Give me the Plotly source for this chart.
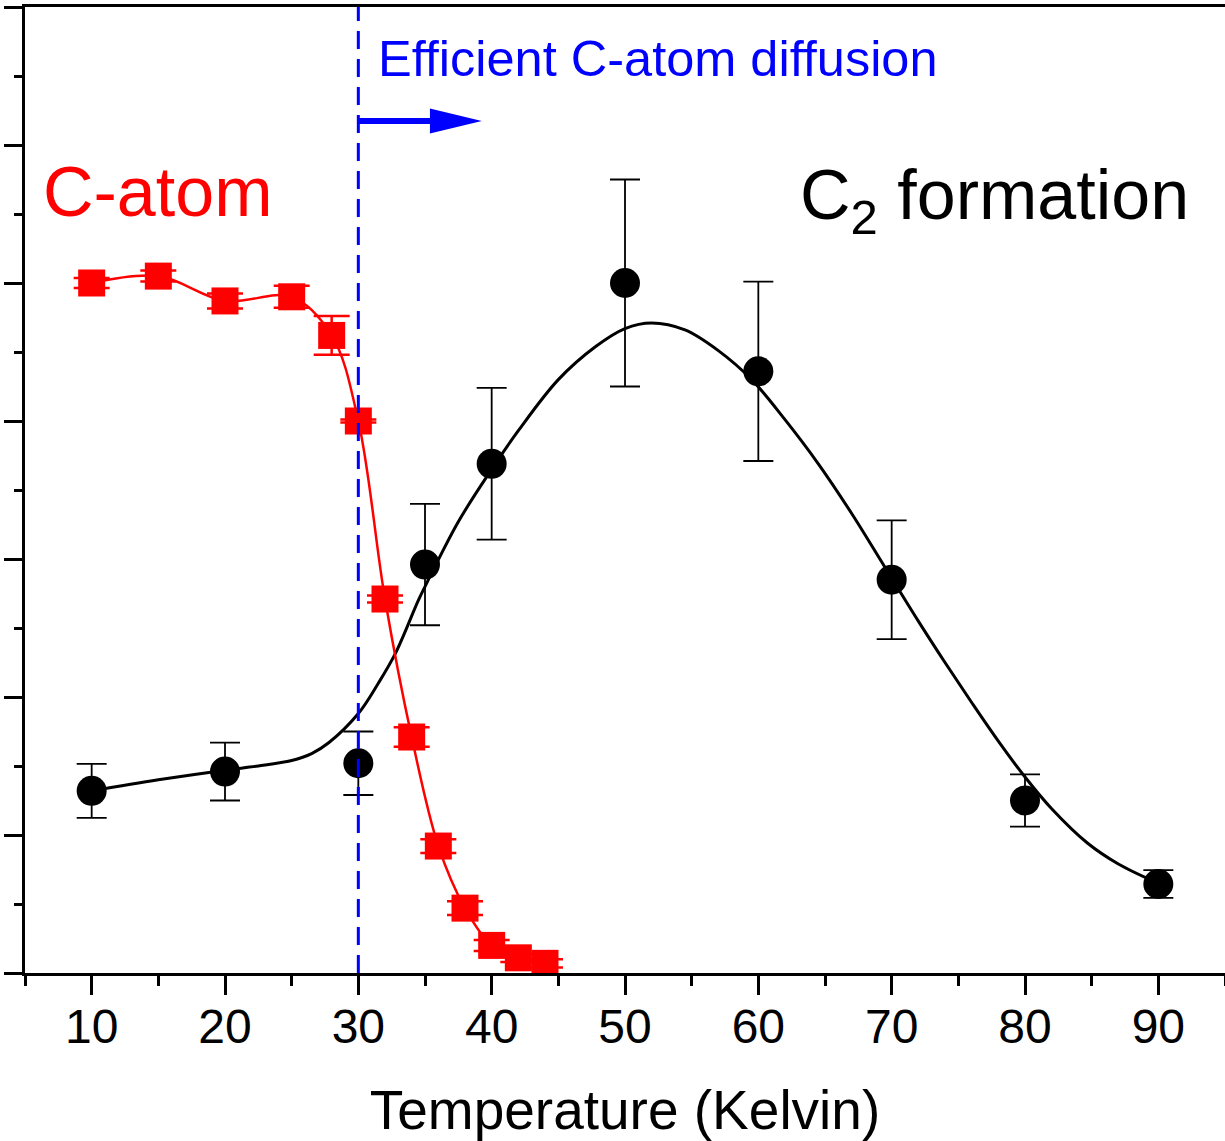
import plotly.graph_objects as go

# C-atom signal (red squares)
temp_c = [10, 15, 20, 25, 28, 30, 32, 34, 36, 38, 40, 42, 44]
catom = [5.00, 5.05, 4.87, 4.90, 4.62, 4.00, 2.71, 1.71, 0.92, 0.47, 0.20, 0.11, 0.07]
catom_err = [0.036, 0.04, 0.054, 0.08, 0.14, 0.01, 0.025, 0.07, 0.05, 0.05, 0.04, 0.03, 0.03]

# C2 formation (black circles)
temp_f = [10, 20, 30, 35, 40, 50, 60, 70, 80, 90]
c2 = [1.32, 1.46, 1.52, 2.96, 3.69, 5.00, 4.36, 2.85, 1.25, 0.645]
c2_err = [0.196, 0.21, 0.23, 0.44, 0.55, 0.75, 0.65, 0.43, 0.19, 0.10]

# C2 fitted curve
fit_t = [10, 15, 20, 22.5, 25, 26.5, 27.8, 30, 31.5, 32.8, 34.5, 35.0, 37.5, 40, 42, 45, 47.8,
         50, 52, 54.5, 57, 59.5, 62, 64.5, 67, 69.5, 72, 74, 76, 78, 80, 82, 84.7, 87, 90]
fit_v = [1.32, 1.40, 1.47, 1.50, 1.54, 1.59, 1.67, 1.88, 2.10, 2.32, 2.70, 2.80, 3.27, 3.65,
         3.93, 4.30, 4.54, 4.67, 4.71, 4.66, 4.51, 4.30, 4.01, 3.69, 3.33, 2.94, 2.55, 2.25,
         1.96, 1.68, 1.42, 1.19, 0.94, 0.79, 0.65]

x_ticks = [10, 20, 30, 40, 50, 60, 70, 80, 90]
x_range = [5, 95]
y_range = [0, 7]
threshold_t = 30

FONT = "Arial, Liberation Sans, sans-serif"

fig = go.Figure()

fig.add_trace(go.Scatter(
    x=fit_t, y=fit_v, mode="lines",
    line=dict(color="black", width=3, shape="spline", smoothing=1.0),
    hoverinfo="skip", showlegend=False))

fig.add_trace(go.Scatter(
    x=temp_f, y=c2, mode="markers",
    marker=dict(symbol="circle", size=30, color="black", line=dict(width=0)),
    error_y=dict(type="data", array=c2_err, visible=True, color="black",
                 thickness=1.8, width=15),
    showlegend=False))

fig.add_trace(go.Scatter(
    x=temp_c, y=catom, mode="lines+markers",
    line=dict(color="#ff0000", width=2.5, shape="spline", smoothing=1.0),
    marker=dict(symbol="square", size=27, color="#ff0000", line=dict(width=0)),
    error_y=dict(type="data", array=catom_err, visible=True, color="#ff0000",
                 thickness=2.5, width=18),
    showlegend=False))

# threshold dashed line
fig.add_shape(type="line", x0=threshold_t, x1=threshold_t, y0=y_range[0], y1=y_range[1],
              xref="x", yref="y", layer="above",
              line=dict(color="#0000ff", width=3, dash="18px,10px"))

# arrow
arrow_y = 6.174
fig.add_shape(type="line", x0=threshold_t, x1=35.6, y0=arrow_y, y1=arrow_y,
              xref="x", yref="y", layer="above",
              line=dict(color="#0000ff", width=6))
fig.add_shape(type="path", xref="x", yref="y", layer="above",
              path=f"M 35.37,{arrow_y + 0.091} L 39.26,{arrow_y} L 35.37,{arrow_y - 0.091} Z",
              fillcolor="#0000ff", line=dict(color="#0000ff", width=0))

fig.add_annotation(x=31.3, y=6.63, xref="x", yref="y", text="Efficient C-atom diffusion",
                   showarrow=False, xanchor="left", yanchor="middle",
                   font=dict(family=FONT, size=50.5, color="#0000ff"))
fig.add_annotation(x=6.2, y=5.66, xref="x", yref="y", text="C-atom",
                   showarrow=False, xanchor="left", yanchor="middle",
                   font=dict(family=FONT, size=70, color="#ff0000"))
fig.add_annotation(x=63.0, y=5.60, xref="x", yref="y", text="C<sub>2</sub> formation",
                   showarrow=False, xanchor="left", yanchor="middle",
                   font=dict(family=FONT, size=70, color="black"))

fig.update_xaxes(
    range=x_range, tickmode="array", tickvals=x_ticks,
    ticks="outside", ticklen=19, tickwidth=3, tickcolor="black",
    minor=dict(dtick=5, tick0=5, ticks="outside", ticklen=10, tickwidth=3, tickcolor="black"),
    showline=True, linewidth=3, linecolor="black", mirror=True,
    showgrid=False, zeroline=False, automargin=False,
    tickfont=dict(family=FONT, size=48, color="black"),
    ticklabelstandoff=-10,
    title=dict(text="Temperature (Kelvin)", font=dict(family=FONT, size=55, color="black"),
               standoff=42),
)
fig.update_yaxes(
    range=y_range, tick0=0, dtick=1,
    ticks="outside", ticklen=18, tickwidth=3, tickcolor="black",
    minor=dict(dtick=0.5, tick0=0, ticks="outside", ticklen=8, tickwidth=3, tickcolor="black"),
    showline=True, linewidth=3, linecolor="black", mirror=False,
    showgrid=False, zeroline=False, showticklabels=False, automargin=False,
)

fig.update_layout(
    width=1225, height=1141,
    margin=dict(l=25, r=0, t=7, b=168),
    plot_bgcolor="white", paper_bgcolor="white",
    font=dict(family=FONT),
)

fig.write_html(
    "out.html",
    config={"displayModeBar": False},
    post_script="document.body.style.margin='0';document.body.style.overflow='hidden';",
)
